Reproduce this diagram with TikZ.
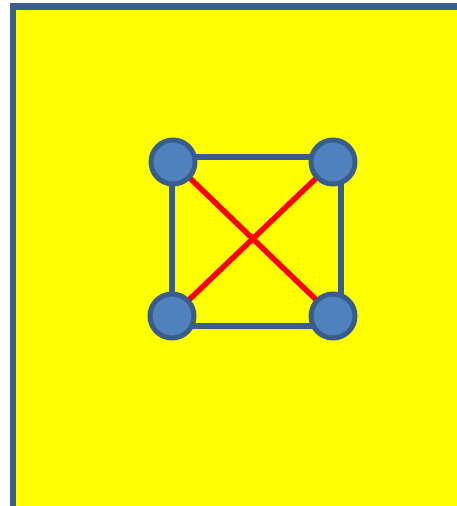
\documentclass[tikz,border=0pt]{standalone}
\usetikzlibrary{calc}
\definecolor{frameblue}{RGB}{58,95,143}
\definecolor{dotfill}{RGB}{79,129,189}
\definecolor{dotline}{RGB}{56,93,138}
\definecolor{bgyellow}{RGB}{255,255,0}
\definecolor{xred}{RGB}{255,0,0}
\tikzset{
  dot/.style={circle,fill=dotfill,draw=dotline,line width=5pt,minimum size=44pt,inner sep=0pt},
  sqedge/.style={draw=dotline,line width=6pt},
  cross/.style={draw=xred,line width=5.5pt},
}
\begin{document}
\begin{tikzpicture}[x=1pt,y=-1pt]
\useasboundingbox (0,0) rectangle (457,506);
\fill[white] (0,0) rectangle (457,506);
\begin{scope}
\clip (0,0) rectangle (457,506);
\filldraw[fill=bgyellow,draw=frameblue,line width=6.5pt] (13,6.5) rectangle (480,530);
\end{scope}
% square corners
\coordinate (s1) at (172,157);
\coordinate (s2) at (341,157);
\coordinate (s3) at (341,326);
\coordinate (s4) at (172,326);
\draw[sqedge,line cap=rect] (s1) -- (s2) -- (s3) -- (s4) -- cycle;
% circle positions
\coordinate (ptl) at (173,162);
\coordinate (ptr) at (333,162);
\coordinate (pbl) at (172,316);
\coordinate (pbr) at (333,316);
\draw[cross] (ptl) -- (pbr);
\draw[cross] (ptr) -- (pbl);
\node[dot] (tl) at (ptl) {};
\node[dot] (tr) at (ptr) {};
\node[dot] (bl) at (pbl) {};
\node[dot] (br) at (pbr) {};
\end{tikzpicture}
\end{document}
